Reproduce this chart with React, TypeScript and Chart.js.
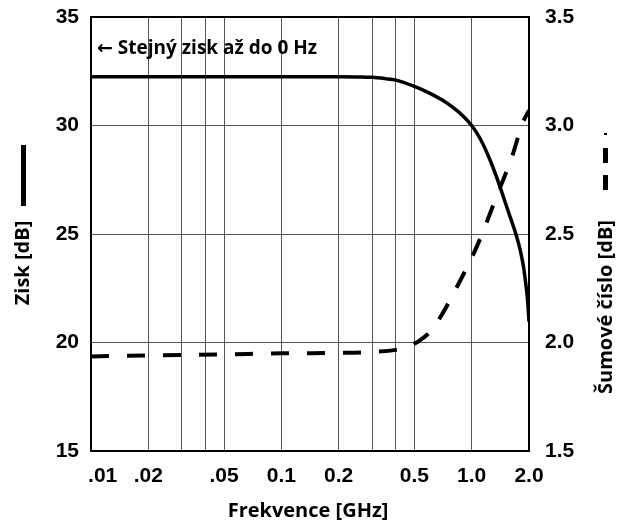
import React, { useEffect, useRef } from 'react';
import { Chart, registerables } from 'chart.js';

Chart.register(...registerables);

// X axis (frequency, GHz) – log scale grid and labels
const xTickValues = [0.01, 0.02, 0.03, 0.04, 0.05, 0.1, 0.2, 0.3, 0.4, 0.5, 1, 2];
const xTickLabels = ['    .01', '.02', '', '', '.05', '0.1', '0.2', '', '', '0.5', '1.0', '2.0'];

// Gain (left axis, dB)
const gainFreq = [0.01, 0.1, 0.2, 0.25, 0.3, 0.35, 0.4, 0.5, 0.6, 0.7, 0.8, 0.9, 1.0, 1.107, 1.25, 1.36, 1.555, 1.72, 1.8, 1.87, 1.93, 1.97, 2.0];
const gainDb = [32.25, 32.25, 32.25, 32.24, 32.22, 32.16, 32.09, 31.8, 31.49, 31.17, 30.82, 30.44, 30.0, 29.4, 28.4, 27.55, 26.05, 24.9, 24.25, 23.5, 22.6, 21.85, 20.96];

// Noise figure (right axis, dB)
const noiseFreq = [0.01, 0.02, 0.05, 0.1, 0.2, 0.3, 0.4, 0.45, 0.5, 0.53, 0.615, 0.71, 0.79, 0.9, 1.0, 1.11, 1.36, 1.62, 1.85, 2.0];
const noiseDb = [1.936, 1.94, 1.945, 1.95, 1.952, 1.956, 1.966, 1.975, 1.995, 2.008, 2.056, 2.14, 2.215, 2.31, 2.39, 2.48, 2.68, 2.85, 3.01, 3.07];

const leftMin = 15;
const leftMax = 35;
const rightMin = 1.5;
const rightMax = 3.5;

const xTitle = 'Frekvence [GHz]';
const leftTitle = 'Zisk [dB]';
const rightTitle = 'Šumové číslo [dB]';
const note = '← Stejný zisk až do 0 Hz';

const tickFont = { family: '"Liberation Sans", Arial, sans-serif', size: 21, weight: 'bold' as const };
const titleFont = 'bold 20px "Open Sans", "DejaVu Sans", sans-serif';

export default function App() {
  const ref = useRef<HTMLCanvasElement>(null);

  useEffect(() => {
    document.body.style.margin = '0';
    const canvas = ref.current;
    if (!canvas) return;

    const decor = {
      id: 'decor',
      afterDraw(chart: any) {
        const { ctx, chartArea } = chart;
        ctx.save();
        // frame
        ctx.strokeStyle = '#000';
        ctx.lineWidth = 2;
        ctx.strokeRect(chartArea.left, chartArea.top, chartArea.right - chartArea.left, chartArea.bottom - chartArea.top);

        ctx.fillStyle = '#000';
        ctx.font = titleFont;
        ctx.textAlign = 'center';
        ctx.textBaseline = 'middle';
        // x title
        ctx.fillText(xTitle, (chartArea.left + chartArea.right) / 2 - 2, 511);

        // left title with solid line marker
        ctx.save();
        ctx.translate(23, 263);
        ctx.rotate(-Math.PI / 2);
        ctx.fillText(leftTitle, 0, 0);
        ctx.restore();
        ctx.fillRect(21, 145, 5, 61);

        // right title with dashed marker
        ctx.save();
        ctx.translate(606, 307);
        ctx.rotate(-Math.PI / 2);
        ctx.fillText(rightTitle, 0, 0);
        ctx.restore();
        ctx.fillRect(604, 133, 3, 2);
        ctx.fillRect(603, 148, 5, 15);
        ctx.fillRect(603, 175, 5, 15);

        // annotation
        ctx.font = 'bold 19px "Open Sans", "DejaVu Sans", sans-serif';
        ctx.textAlign = 'left';
        ctx.textBaseline = 'alphabetic';
        ctx.fillText(note, chartArea.left + 6, 54);
        ctx.restore();
      },
    };

    const fixV = (w: number) => (axis: any) => {
      axis.width = w;
      axis.paddingTop = 0;
      axis.paddingBottom = 0;
    };

    const chart = new Chart(canvas, {
      type: 'line',
      data: {
        datasets: [
          {
            label: 'Zisk',
            data: gainFreq.map((f, i) => ({ x: f, y: gainDb[i] })),
            yAxisID: 'y',
            borderColor: '#000',
            borderWidth: 3.5,
            pointRadius: 0,
            cubicInterpolationMode: 'monotone',
            fill: false,
          },
          {
            label: 'Šumové číslo',
            data: noiseFreq.map((f, i) => ({ x: f, y: noiseDb[i] })),
            yAxisID: 'y1',
            borderColor: '#000',
            borderWidth: 4,
            borderDash: [18, 18],
            pointRadius: 0,
            cubicInterpolationMode: 'monotone',
            fill: false,
          },
        ],
      },
      options: {
        responsive: false,
        animation: false,
        layout: { padding: { top: 17, left: 0, right: 0, bottom: 0 } },
        plugins: { legend: { display: false }, tooltip: { enabled: false } },
        scales: {
          x: {
            type: 'logarithmic',
            min: 0.01,
            max: 2,
            afterBuildTicks: (axis: any) => {
              axis.ticks = xTickValues.map((v) => ({ value: v }));
            },
            afterFit: (axis: any) => {
              axis.height = 75;
              axis.paddingLeft = 0;
              axis.paddingRight = 0;
            },
            ticks: {
              autoSkip: false,
              maxRotation: 0,
              minRotation: 0,
              padding: 13,
              color: '#000',
              font: tickFont,
              callback: (value: any) => {
                const i = xTickValues.findIndex((v) => Math.abs(v - Number(value)) < 1e-9);
                return i >= 0 ? xTickLabels[i] : '';
              },
            },
            grid: { color: '#555', lineWidth: 1, drawTicks: false },
            border: { display: false },
          },
          y: {
            type: 'linear',
            position: 'left',
            min: leftMin,
            max: leftMax,
            afterFit: fixV(91),
            ticks: { stepSize: 5, padding: 12, color: '#000', font: tickFont },
            grid: { color: '#555', lineWidth: 1, drawTicks: false },
            border: { display: false },
          },
          y1: {
            type: 'linear',
            position: 'right',
            min: rightMin,
            max: rightMax,
            afterFit: fixV(89),
            ticks: {
              stepSize: 0.5,
              padding: 16,
              color: '#000',
              font: tickFont,
              callback: (v: any) => Number(v).toFixed(1),
            },
            grid: { drawOnChartArea: false, drawTicks: false },
            border: { display: false },
          },
        },
      },
      plugins: [decor],
    });

    return () => chart.destroy();
  }, []);

  return (
    <div style={{ width: 618, height: 526, background: '#fff' }}>
      <canvas ref={ref} width={618} height={526} style={{ display: 'block' }} />
    </div>
  );
}
